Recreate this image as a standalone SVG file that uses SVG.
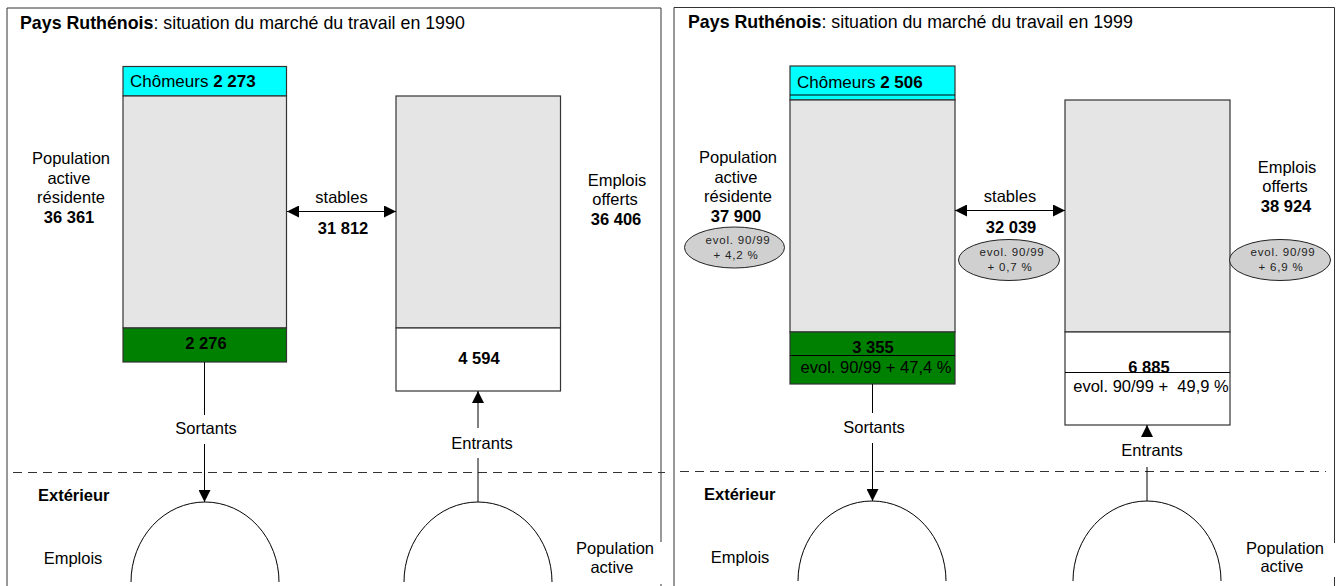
<svg xmlns="http://www.w3.org/2000/svg" width="1336" height="586" viewBox="0 0 1336 586">
<defs>
<style>
.t{font-family:"Liberation Sans",Arial,sans-serif;font-size:16.5px;fill:#000}
.c{text-anchor:middle}
.b{font-weight:bold}
.ti{font-size:17.8px}
.ch{font-size:17px}
.s{font-size:11.5px;letter-spacing:0.8px;fill:#222}
.frame{fill:none;stroke:#333;stroke-width:1}
.box{stroke:#333;stroke-width:1.2}
.gray{fill:#e5e5e5}
.cyan{fill:#00ffff}
.green{fill:#008000}
.white{fill:#fff}
.ell{fill:#d0d0d0;stroke:#222;stroke-width:1}
.ln{stroke:#000;stroke-width:1;fill:none}
.dash{stroke:#333;stroke-width:1;stroke-dasharray:9 6;fill:none}
.arc{stroke:#000;stroke-width:1;fill:none}
</style>
<marker id="ah" viewBox="0 0 12 12" refX="12" refY="6" markerWidth="12" markerHeight="12" markerUnits="userSpaceOnUse" orient="auto-start-reverse">
<path d="M0,0 L12,6 L0,12 z" fill="#000"/>
</marker>
</defs>
<rect width="1336" height="586" fill="#fff"/>

<!-- Left panel frame -->
<g id="panel1990">
<path class="frame" d="M7,586 V8 H661 V542 M661,584 V586"/>
<text class="t ti" x="20" y="29"><tspan class="b">Pays Ruthénois</tspan>: situation du marché du travail en 1990</text>
</g>

<g id="pop1990">
<rect class="box cyan" x="123" y="66.5" width="163.5" height="29.5"/>
<rect class="box gray" x="123" y="96" width="163.5" height="232"/>
<rect class="box green" x="123" y="328" width="163.5" height="34"/>
<text class="t ch" x="130" y="87">Chômeurs <tspan class="b">2 273</tspan></text>
<text class="t b c" x="206" y="349">2 276</text>
<text class="t c" x="71" y="164">Population</text>
<text class="t c" x="69" y="184">active</text>
<text class="t c" x="71" y="203">résidente</text>
<text class="t b c" x="69" y="223">36 361</text>
</g>

<g id="emp1990">
<rect class="box gray" x="396" y="96" width="164.5" height="232"/>
<rect class="box white" x="396" y="328" width="164.5" height="63"/>
<text class="t b c" x="479" y="364">4 594</text>
<text class="t c" x="617" y="186">Emplois</text>
<text class="t c" x="615" y="205">offerts</text>
<text class="t b c" x="616" y="225">36 406</text>
</g>

<g id="ext1990">
<path class="dash" d="M13,472.5 H665"/>
<text class="t b" x="38" y="501">Extérieur</text>
<path class="arc" d="M131,582 A74,80 0 0 1 279,582"/>
<path class="arc" d="M404,582 A74,80 0 0 1 552,582"/>
<text class="t c" x="73" y="564">Emplois</text>
<text class="t c" x="615" y="554">Population</text>
<text class="t c" x="612" y="573">active</text>
</g>

<!-- Right panel frame -->
<g id="panel1999">
<path class="frame" d="M674,586 V7.5 H1334.5 V543 M1334.5,577 V586"/>
<text class="t ti" x="688" y="28"><tspan class="b">Pays Ruthénois</tspan>: situation du marché du travail en 1999</text>
</g>

<g id="pop1999">
<rect class="box cyan" x="790" y="66" width="165" height="34"/>
<line class="ln" x1="790" y1="95" x2="955" y2="95"/>
<rect class="box gray" x="790" y="100" width="165" height="232"/>
<rect class="box green" x="790" y="332" width="165" height="52"/>
<line class="ln" x1="790" y1="355.5" x2="955" y2="355.5"/>
<text class="t ch" x="797" y="88">Chômeurs <tspan class="b">2 506</tspan></text>
<text class="t b c" x="873" y="353">3 355</text>
<text class="t c" x="876" y="373">evol. 90/99 + 47,4 %</text>
<text class="t c" x="738" y="163">Population</text>
<text class="t c" x="736" y="183">active</text>
<text class="t c" x="738" y="202">résidente</text>
<text class="t b c" x="736" y="222">37 900</text>
<ellipse class="ell" cx="734.5" cy="247.5" rx="50" ry="20.5"/>
<text class="t s c" x="738" y="243.5">evol. 90/99</text>
<text class="t s c" x="736" y="258.5">+ 4,2 %</text>
</g>

<g id="emp1999">
<rect class="box gray" x="1065" y="100" width="165" height="232"/>
<rect class="box white" x="1065" y="332" width="165" height="93"/>
<line class="ln" x1="1065" y1="372.5" x2="1230" y2="372.5"/>
<text class="t b c" x="1149" y="373">6 885</text>
<text class="t c" x="1151" y="392">evol. 90/99 +&#160; 49,9 %</text>
<text class="t c" x="1287" y="173">Emplois</text>
<text class="t c" x="1285" y="192">offerts</text>
<text class="t b c" x="1286" y="212">38 924</text>
<ellipse class="ell" cx="1280" cy="260" rx="50.5" ry="20.5"/>
<text class="t s c" x="1283" y="256">evol. 90/99</text>
<text class="t s c" x="1281" y="270.5">+ 6,9 %</text>
</g>

<g id="stab1999">
<text class="t c" x="1010" y="202">stables</text>
<text class="t b c" x="1011" y="232.5">32 039</text>
<ellipse class="ell" cx="1009" cy="260" rx="50.5" ry="20.5"/>
<text class="t s c" x="1012" y="256">evol. 90/99</text>
<text class="t s c" x="1010" y="270.5">+ 0,7 %</text>
</g>

<g id="stab1990">
<text class="t c" x="341.5" y="203">stables</text>
<text class="t b c" x="343" y="233.5">31 812</text>
</g>

<g id="ext1999">
<path class="dash" d="M680,471.5 H1326"/>
<text class="t b" x="704" y="499.5">Extérieur</text>
<path class="arc" d="M798,581 A74,80 0 0 1 946,581"/>
<path class="arc" d="M1073,581 A74,80 0 0 1 1221,581"/>
<text class="t c" x="740" y="563">Emplois</text>
<text class="t c" x="1285" y="553.5">Population</text>
<text class="t c" x="1282" y="572">active</text>
</g>

<!-- Connectors -->
<g id="connectors">
<line class="ln" x1="287" y1="211.5" x2="396" y2="211.5" marker-start="url(#ah)" marker-end="url(#ah)"/>
<line class="ln" x1="204.5" y1="362" x2="204.5" y2="415"/>
<text class="t c" x="206" y="434">Sortants</text>
<line class="ln" x1="204.5" y1="444" x2="204.5" y2="502" marker-end="url(#ah)"/>
<line class="ln" x1="478" y1="428" x2="478" y2="391" marker-end="url(#ah)"/>
<text class="t c" x="482" y="449">Entrants</text>
<line class="ln" x1="478" y1="458" x2="478" y2="502"/>

<line class="ln" x1="955" y1="210.5" x2="1065" y2="210.5" marker-start="url(#ah)" marker-end="url(#ah)"/>
<line class="ln" x1="872.5" y1="384" x2="872.5" y2="413"/>
<text class="t c" x="874" y="433">Sortants</text>
<line class="ln" x1="872.5" y1="443" x2="872.5" y2="501" marker-end="url(#ah)"/>
<line class="ln" x1="1147" y1="437" x2="1147" y2="425" marker-end="url(#ah)"/>
<text class="t c" x="1152" y="456">Entrants</text>
<line class="ln" x1="1147" y1="467" x2="1147" y2="501"/>
</g>
</svg>
